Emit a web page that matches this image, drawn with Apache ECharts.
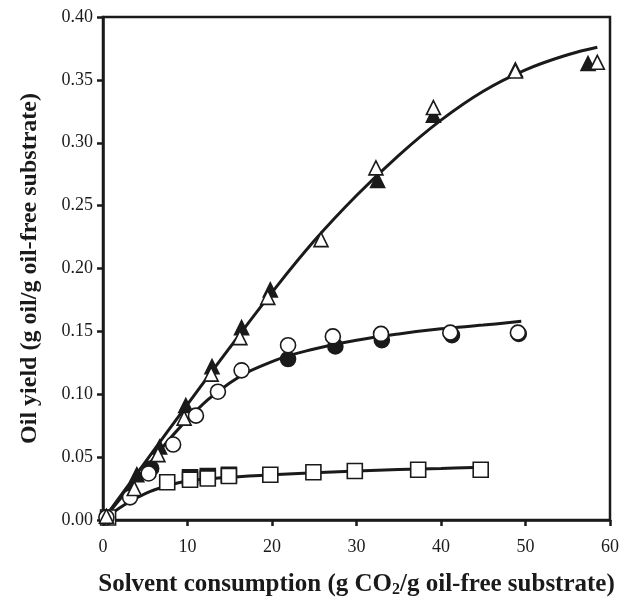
<!DOCTYPE html>
<html>
<head>
<meta charset="utf-8">
<script src="https://cdn.jsdelivr.net/npm/echarts@6/dist/echarts.min.js"></script>
<style>html,body{margin:0;padding:0;background:#fff}#c{width:626px;height:598px}</style>
</head>
<body>
<div id="c"></div>
<script>
// x: solvent consumption (g CO2/g oil-free substrate), y: oil yield (g oil/g oil-free substrate)
const openTriangles = [[0.4,0.003],[3.7,0.025],[6.5,0.052],[9.6,0.081],[12.8,0.116],[16.2,0.145],[19.5,0.177],[25.8,0.223],[32.3,0.280],[39.1,0.328],[48.8,0.357],[58.5,0.364]];
const filledTriangles = [[4.0,0.036],[6.7,0.058],[9.8,0.091],[12.9,0.122],[16.4,0.153],[19.8,0.183],[32.5,0.270],[39.1,0.322],[48.8,0.358],[57.4,0.363]];
const openCircles = [[0.4,0.002],[3.2,0.018],[5.4,0.037],[8.3,0.060],[11.0,0.083],[13.6,0.102],[16.4,0.119],[21.9,0.139],[27.2,0.146],[32.9,0.148],[41.1,0.149],[49.1,0.149]];
const filledCircles = [[5.7,0.041],[21.9,0.128],[27.5,0.138],[33.0,0.143],[41.3,0.147],[49.2,0.148]];
const openSquares = [[0.6,0.002],[7.6,0.030],[10.3,0.032],[12.4,0.033],[14.9,0.035],[19.8,0.036],[24.9,0.038],[29.8,0.039],[37.3,0.040],[44.7,0.040]];
const filledSquares = [[10.3,0.034],[12.4,0.035],[14.9,0.036]];
const fitTriangles = [[0,0],[5,0.046],[10,0.092],[15,0.137],[20,0.181],[25,0.222],[30,0.258],[35,0.290],[40,0.318],[45,0.341],[50,0.358],[55,0.370],[58.5,0.376]];
const fitCircles = [[0,0],[5,0.041],[10,0.080],[15,0.109],[20,0.126],[25,0.136],[30,0.143],[35,0.148],[40,0.152],[45,0.155],[49.5,0.158]];
const fitSquares = [[0,0],[2.5,0.012],[5,0.021],[7.5,0.027],[10,0.031],[15,0.034],[20,0.036],[30,0.039],[40,0.041],[45,0.042]];
const xTicks = [0,10,20,30,40,50,60];
const yTicks = [0,0.05,0.10,0.15,0.20,0.25,0.30,0.35,0.40];

const ink = '#1a1a1a';
const font = 'Liberation Serif';
function fitLine(data){return {type:'line',data:data,smooth:0.4,symbol:'none',z:1,lineStyle:{color:ink,width:3}};}
function marks(data,symbol,size,filled,z){
  return {type:'scatter',data:data,symbol:symbol,symbolSize:size,z:z,
    itemStyle:{color:filled?ink:'#fff',borderColor:ink,borderWidth:1.6,opacity:1}};
}
const chart = echarts.init(document.getElementById('c'),null,{renderer:'canvas'});
chart.setOption({
  animation:false,
  backgroundColor:'#fff',
  grid:{left:103,right:16,top:17,bottom:78,outerBoundsMode:'none',containLabel:false,show:true,borderColor:ink,borderWidth:2.5,backgroundColor:'transparent'},
  xAxis:{type:'value',min:xTicks[0],max:xTicks[xTicks.length-1],interval:10,
    name:'{a|Solvent consumption (g CO}{s|2}{a|/g oil-free substrate)}',nameLocation:'middle',nameGap:52,
    nameTextStyle:{rich:{a:{fontFamily:font,fontWeight:'bold',fontSize:25,color:ink},s:{fontFamily:font,fontWeight:'bold',fontSize:16,color:ink,verticalAlign:'bottom',padding:[10,0,0,0]}}},
    axisLine:{show:true,lineStyle:{color:ink,width:2.5}},
    axisTick:{show:true,inside:false,length:6,lineStyle:{color:ink,width:2.5}},
    axisLabel:{fontFamily:font,fontSize:18,color:ink,margin:18,formatter:v=>String(v)},
    splitLine:{show:false}},
  yAxis:{type:'value',min:yTicks[0],max:yTicks[yTicks.length-1],interval:0.05,
    name:'Oil yield (g oil/g oil-free substrate)',nameLocation:'middle',nameGap:61,
    nameTextStyle:{fontFamily:font,fontWeight:'bold',fontSize:24,color:ink},
    axisLine:{show:true,lineStyle:{color:ink,width:2.5}},
    axisTick:{show:true,inside:false,length:6,lineStyle:{color:ink,width:2.5}},
    axisLabel:{fontFamily:font,fontSize:18,color:ink,margin:10,formatter:v=>v.toFixed(2)},
    splitLine:{show:false}},
  series:[
    fitLine(fitTriangles),fitLine(fitCircles),fitLine(fitSquares),
    marks(filledSquares,'rect',15,true,2),
    marks(openSquares,'rect',15,false,3),
    marks(filledCircles,'circle',15,true,2),
    marks(openCircles,'circle',15,false,3),
    marks(filledTriangles,'triangle',14,true,2),
    marks(openTriangles,'triangle',14,false,3)
  ]
});
</script>
</body>
</html>
